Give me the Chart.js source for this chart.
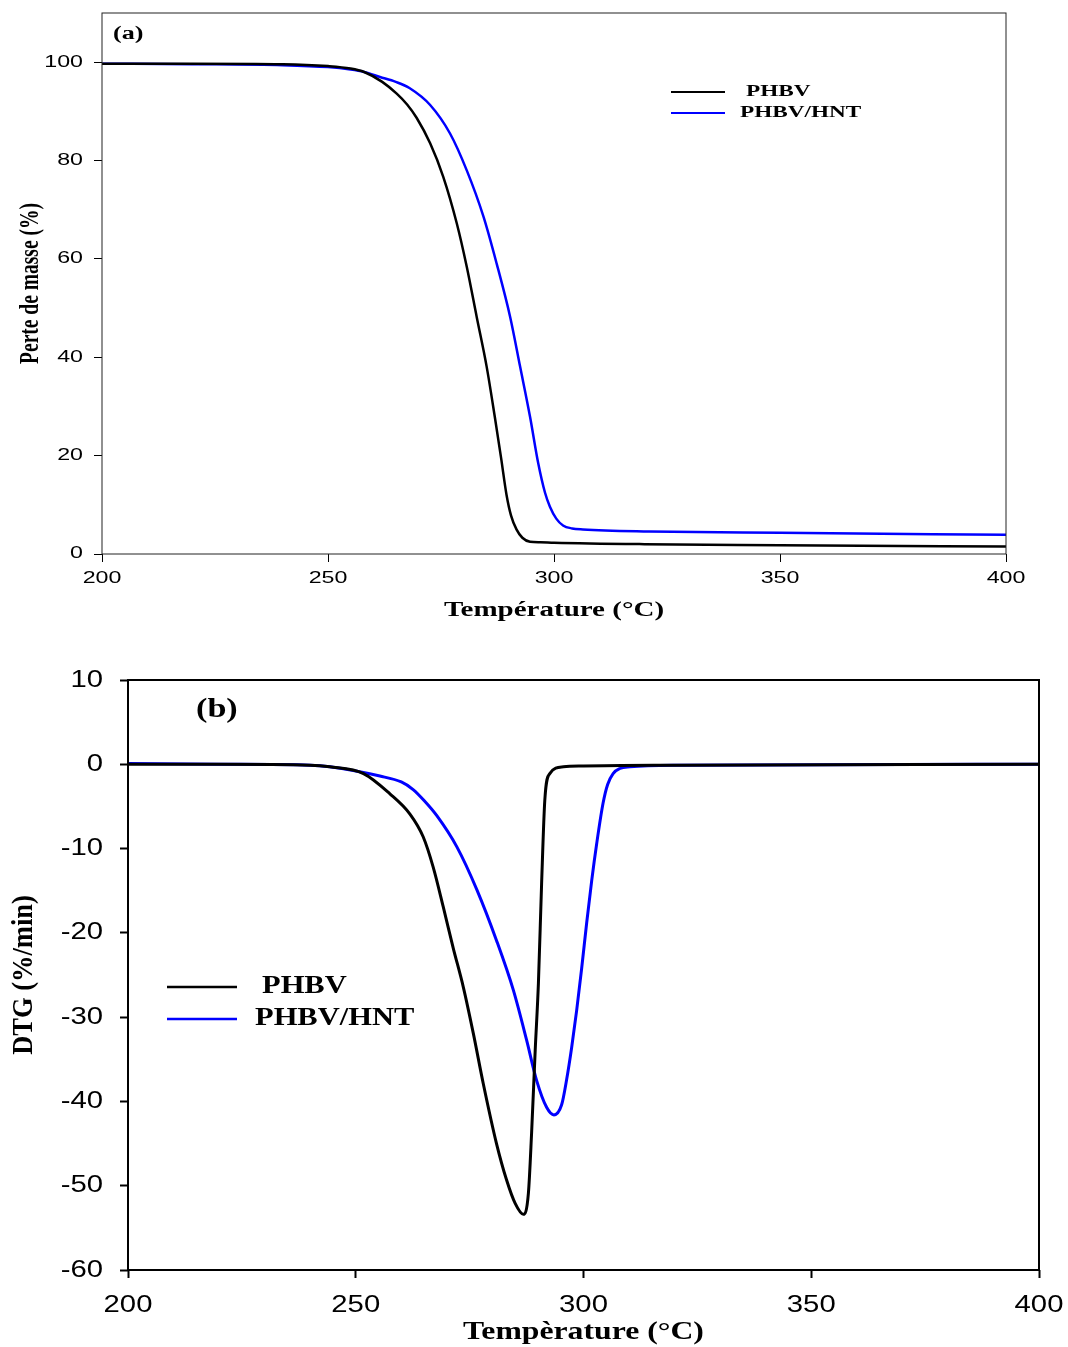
<!DOCTYPE html>
<html>
<head>
<meta charset="utf-8">
<script src="https://cdn.jsdelivr.net/npm/chart.js@4.4.1/dist/chart.umd.min.js"></script>
<style>
  html, body { margin: 0; padding: 0; background: #fff; }
  #wrap { position: relative; width: 1068px; height: 1347px; }
  canvas { position: absolute; left: 0; }
  #tga { top: 0; }
  #dtg { top: 640px; }
</style>
</head>
<body>
<div id="wrap">
  <canvas id="tga" width="1068" height="640"></canvas>
  <canvas id="dtg" width="1068" height="707"></canvas>
</div>
<script>
// (a) TGA — mass vs temperature
const tgaTempPHBV = [200, 220, 240, 250, 255, 258, 262, 265.2, 267.5, 269.6, 272.6, 275.5, 278.5, 280.7, 282.9, 285.1, 286.9, 288.3, 289.5, 290.5, 291.7, 293, 294.7, 297, 300, 320, 350, 400];
const tgaPHBV     = [99.7, 99.7, 99.6, 99.2, 98.7, 98.0, 96.0, 93.6, 91.4, 88.7, 83.5, 76.7, 67.2, 58.4, 48.2, 38.1, 27.9, 19.5, 12.0, 7.8, 5.0, 3.3, 2.5, 2.4, 2.3, 2.0, 1.8, 1.5];
const tgaTempHNT  = [200, 220, 240, 250, 255, 258, 261.5, 265, 268.1, 272.6, 277, 280.7, 284.4, 287.3, 290.3, 292.5, 294.7, 296.5, 298, 299.1, 300.5, 302, 304, 306.4, 321, 350, 400];
const tgaHNT      = [99.7, 99.6, 99.4, 99.0, 98.5, 98.0, 97.0, 96.0, 94.7, 91.3, 85.5, 78.0, 68.6, 59.1, 48.2, 38.1, 27.9, 18.5, 12.5, 9.6, 7.2, 5.8, 5.2, 5.0, 4.6, 4.3, 3.9];

// (b) DTG — derivative
const dtgTempPHBV = [200, 220, 240, 244.3, 251.7, 257.5, 261.9, 264.8, 267, 269.2, 271.4, 273.6, 275.8, 278, 280.9, 283.1, 285, 286.8, 287.9, 288.6, 289.4, 290.1, 290.8, 291.5, 292.6, 295.6, 300, 320, 400];
const dtgPHBV     = [0, 0, -0.1, -0.3, -1.1, -3.5, -5.9, -8.6, -12.2, -16.9, -21.8, -26.4, -31.9, -37.9, -45.0, -49.3, -52.1, -53.4, -50.9, -43.8, -33.9, -26.0, -14.2, -4.3, -1.1, -0.3, -0.2, -0.1, 0];
const dtgTempHNT  = [200, 220, 240, 244.3, 255.3, 260, 262.6, 265, 267.8, 272.2, 276.6, 280.9, 284.6, 287.5, 289.7, 291.9, 293.5, 295.2, 296.3, 297.4, 298.5, 299.6, 300.7, 301.8, 302.9, 304.3, 305.3, 306.5, 308, 310.2, 320, 400];
const dtgHNT      = [0.1, 0, -0.1, -0.3, -1.4, -2.1, -3.0, -4.3, -6.1, -9.8, -14.9, -20.9, -26.8, -32.7, -37.5, -40.7, -41.6, -40.4, -37.4, -33.6, -29.2, -24.2, -18.8, -13.8, -9.4, -4.6, -2.4, -1.1, -0.5, -0.3, -0.1, 0];

const seriesNames = ['PHBV', 'PHBV/HNT'];
const seriesColors = ['#000000', '#0000ff'];
const xTicks = [200, 250, 300, 350, 400];
const yTicksA = [0, 20, 40, 60, 80, 100];
const yTicksB = [10, 0, -10, -20, -30, -40, -50, -60];

const SERIF = '"Liberation Serif", "Times New Roman", serif';
const SANS = '"Liberation Sans", Arial, sans-serif';

function toPoints(xs, ys) {
  return xs.map((x, i) => ({ x: x, y: ys[i] }));
}

// text with horizontal stretch (the original figure is stretched)
function drawText(ctx, text, x, y, font, sx, align, rotated) {
  ctx.save();
  ctx.translate(x, y);
  if (rotated) {
    ctx.rotate(-Math.PI / 2);
    ctx.scale(1, sx);
  } else {
    ctx.scale(sx, 1);
  }
  ctx.font = font;
  ctx.fillStyle = '#000';
  ctx.textAlign = align;
  ctx.textBaseline = 'middle';
  ctx.fillText(text, 0, 0);
  ctx.restore();
}

function buildChart(canvasId, s) {
  const ctx = document.getElementById(canvasId).getContext('2d');
  return new Chart(ctx, {
    type: 'line',
    data: {
      datasets: s.series.map((d, i) => ({
        label: seriesNames[i],
        data: toPoints(d[0], d[1]),
        borderColor: seriesColors[i],
        borderWidth: s.lineWidth,
        pointRadius: 0,
        fill: false,
        cubicInterpolationMode: 'monotone'
      }))
    },
    options: {
      responsive: false,
      animation: false,
      layout: { padding: s.padding },
      plugins: { legend: { display: false }, tooltip: { enabled: false } },
      scales: {
        x: {
          type: 'linear', min: 200, max: 400,
          afterBuildTicks: (sc) => { sc.ticks = xTicks.map(v => ({ value: v })); },
          afterFit: (sc) => { sc.height = s.xHeight; },
          grid: { drawOnChartArea: false, drawTicks: true, tickLength: 8, tickColor: '#000', tickWidth: s.axisWidth },
          border: { display: false },
          ticks: { display: false }
        },
        y: {
          type: 'linear', min: s.yMin, max: s.yMax,
          afterBuildTicks: (sc) => { sc.ticks = s.yTicks.map(v => ({ value: v })); },
          afterFit: (sc) => { sc.width = s.yWidth; },
          grid: { drawOnChartArea: false, drawTicks: true, tickLength: 8, tickColor: '#000', tickWidth: s.axisWidth },
          border: { display: false },
          ticks: { display: false }
        }
      }
    },
    plugins: [{
      id: 'frame_and_text',
      afterDraw: (chart) => {
        const c = chart.ctx;
        const a = chart.chartArea;
        const xs = chart.scales.x, ys = chart.scales.y;

        // full box
        c.save();
        c.strokeStyle = s.frameColor;
        c.lineWidth = s.axisWidth;
        c.strokeRect(a.left, a.top, a.right - a.left, a.bottom - a.top);
        c.restore();

        // tick labels
        const tf = s.tickFont + 'px ' + SANS;
        xTicks.forEach(v => drawText(c, String(v), xs.getPixelForValue(v), a.bottom + s.xLabelGap, tf, s.stretch, 'center'));
        s.yTicks.forEach(v => {
          const txt = String(v);
          c.save();
          c.font = tf;
          const tw = c.measureText(txt).width * s.stretch;
          c.restore();
          drawText(c, txt, a.left - s.yLabelGap - tw, ys.getPixelForValue(v), tf, s.stretch, 'left');
        });

        // axis titles
        const titleFont = 'bold ' + s.titleFont + 'px ' + SERIF;
        drawText(c, s.xTitle, (a.left + a.right) / 2, a.bottom + s.xTitleGap, titleFont, s.stretch, 'center');
        drawText(c, s.yTitle, s.yTitleX, (a.top + a.bottom) / 2, 'bold ' + s.yTitleFont + 'px ' + SERIF, s.yTitleStretch, 'center', true);

        // panel label
        drawText(c, s.panel, s.panelPos[0], s.panelPos[1], 'bold ' + s.panelFont + 'px ' + SERIF, s.stretch, 'left');

        // legend
        const lg = s.legend;
        seriesNames.forEach((name, i) => {
          const y = lg.y[i];
          c.save();
          c.strokeStyle = seriesColors[i];
          c.lineWidth = lg.lineWidth;
          c.beginPath();
          c.moveTo(lg.x0, y);
          c.lineTo(lg.x1, y);
          c.stroke();
          c.restore();
          drawText(c, name, lg.textX[i], y, 'bold ' + lg.font + 'px ' + SERIF, s.stretch, 'left');
        });
      }
    }]
  });
}

buildChart('tga', {
  series: [[tgaTempPHBV, tgaPHBV], [tgaTempHNT, tgaHNT]],
  lineWidth: 2.5,
  padding: { top: 13, right: 62, bottom: 0, left: 0 },
  yWidth: 102, xHeight: 86,
  yMin: 0, yMax: 110, yTicks: yTicksA,
  axisWidth: 1, frameColor: '#222',
  tickFont: 16, stretch: 1.45, xLabelGap: 25, yLabelGap: 19,
  titleFont: 20, xTitle: 'Température (°C)', xTitleGap: 57,
  yTitle: 'Perte de masse (%)', yTitleFont: 19.5, yTitleStretch: 1.35, yTitleX: 31,
  panel: '(a)', panelPos: [113, 34], panelFont: 18,
  legend: { x0: 671, x1: 725, y: [92, 113], lineWidth: 2, textX: [746, 740], font: 16 }
});

buildChart('dtg', {
  series: [[dtgTempPHBV, dtgPHBV], [dtgTempHNT, dtgHNT]],
  lineWidth: 3,
  padding: { top: 40, right: 29, bottom: 0, left: 0 },
  yWidth: 128, xHeight: 77,
  yMin: -60, yMax: 10, yTicks: yTicksB,
  axisWidth: 2, frameColor: '#000',
  tickFont: 24, stretch: 1.22, xLabelGap: 35, yLabelGap: 25,
  titleFont: 26, xTitle: 'Tempèrature (°C)', xTitleGap: 62,
  yTitle: 'DTG (%/min)', yTitleFont: 26.5, yTitleStretch: 1.15, yTitleX: 24,
  panel: '(b)', panelPos: [196, 70], panelFont: 28,
  legend: { x0: 167, x1: 237, y: [347, 379], lineWidth: 2.5, textX: [262, 255], font: 25 }
});
</script>
</body>
</html>
